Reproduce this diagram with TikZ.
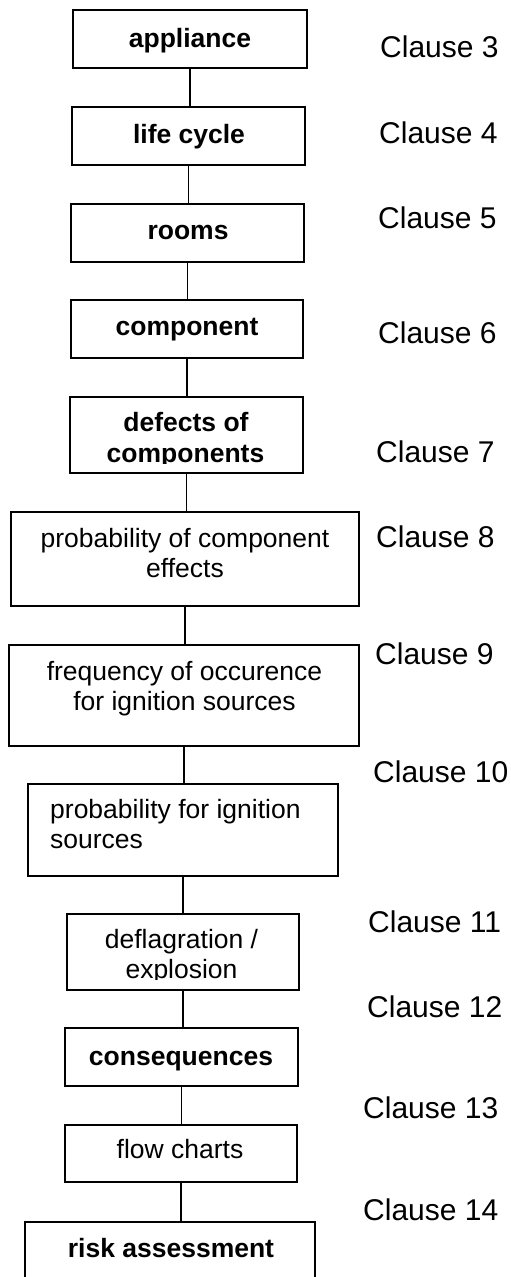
\documentclass[tikz,border=0pt]{standalone}
\usepackage{fontspec}
\setmainfont{Liberation Sans}
\begin{document}
\begin{tikzpicture}[x=1pt,y=-1pt,
  box/.style={draw, line width=1.6pt, rectangle, inner sep=0pt},
  link/.style={line width=1.6pt},
  boldtxt/.style={anchor=base, inner sep=0pt, align=center,
    font=\fontsize{26.5pt}{30pt}\selectfont\bfseries},
  plaintxt/.style={anchor=base, inner sep=0pt, align=center,
    font=\fontsize{26.5pt}{29.5pt}\selectfont},
  clause/.style={anchor=base west, inner sep=0pt,
    font=\fontsize{30pt}{34pt}\selectfont}]
\clip (0,0) rectangle (511,1277);
\fill[white] (0,0) rectangle (511,1277);

% boxes of the chain
\node[box, minimum width=234pt, minimum height=58pt] (appliance) at (190,39) {};
\node[box, minimum width=233pt, minimum height=58pt] (life) at (188.5,136) {};
\node[box, minimum width=233pt, minimum height=58pt] (rooms) at (187.5,233) {};
\node[box, minimum width=232pt, minimum height=58pt] (component) at (187,329) {};
\node[box, minimum width=233pt, minimum height=76pt] (defects) at (186.5,435) {};
\node[box, minimum width=348pt, minimum height=94pt] (probcomp) at (185,559) {};
\node[box, minimum width=350pt, minimum height=101pt] (freq) at (184,695.5) {};
\node[box, minimum width=310pt, minimum height=92pt] (probign) at (183,830) {};
\node[box, minimum width=232pt, minimum height=76pt] (deflag) at (183,952) {};
\node[box, minimum width=233pt, minimum height=58pt] (conseq) at (181.5,1057) {};
\node[box, minimum width=232pt, minimum height=57pt] (flow) at (181,1153.5) {};
\node[box, minimum width=290pt, minimum height=78pt] (risk) at (170,1261) {};

% texts inside the boxes (two-line texts are placed by their last baseline)
\node[boldtxt] (tappliance) at (190,47) {appliance};
\node[boldtxt] (tlife) at (189,143) {life cycle};
\node[boldtxt] (trooms) at (188,239) {rooms};
\node[boldtxt] (tcomponent) at (187,335) {component};
\node[boldtxt] (tdefects) at (186,431) {defects of};
\begin{scope}
  \clip (60,440) rectangle (320,463.5);
  \node[boldtxt] (tcomponents) at (185.5,462) {components};
\end{scope}
\node[plaintxt] (tprobcomp) at (185,577) {probability of component\\effects};
\node[plaintxt] (tfreq) at (184.5,710) {frequency of occurence\\for ignition sources};
\node[plaintxt, anchor=base west, align=left] (tprobign) at (50,848) {probability for ignition\\sources};
\node[plaintxt] (tdeflag) at (181.5,948) {deflagration /};
\begin{scope}
  \clip (60,955) rectangle (320,979.5);
  \node[plaintxt] (texplosion) at (181.5,978) {explosion};
\end{scope}
\node[boldtxt] (tconseq) at (181,1065) {consequences};
\node[plaintxt] (tflow) at (180,1158) {flow charts};
\node[boldtxt] (trisk) at (171,1257) {risk assessment};

% clause references
\node[clause] (c3) at (380,57) {Clause 3};
\node[clause] (c4) at (379,143) {Clause 4};
\node[clause] (c5) at (378,228) {Clause 5};
\node[clause] (c6) at (378,343) {Clause 6};
\node[clause] (c7) at (376,462) {Clause 7};
\node[clause] (c8) at (376,547) {Clause 8};
\node[clause] (c9) at (375,664) {Clause 9};
\node[clause] (c10) at (373,782) {Clause 10};
\node[clause] (c11) at (368,932) {Clause 11};
\node[clause] (c12) at (367,1017) {Clause 12};
\node[clause] (c13) at (363,1118) {Clause 13};
\node[clause] (c14) at (363,1220) {Clause 14};

% connectors
\foreach \a/\b in {appliance/life, life/rooms, rooms/component,
    component/defects, defects/probcomp, probcomp/freq, freq/probign,
    probign/deflag, deflag/conseq, conseq/flow}
  \draw[link] (\a.south) -- (\a.south |- \b.north);
\draw[link] (flow.south) -- (flow.south |- risk.north);
\end{tikzpicture}
\end{document}
